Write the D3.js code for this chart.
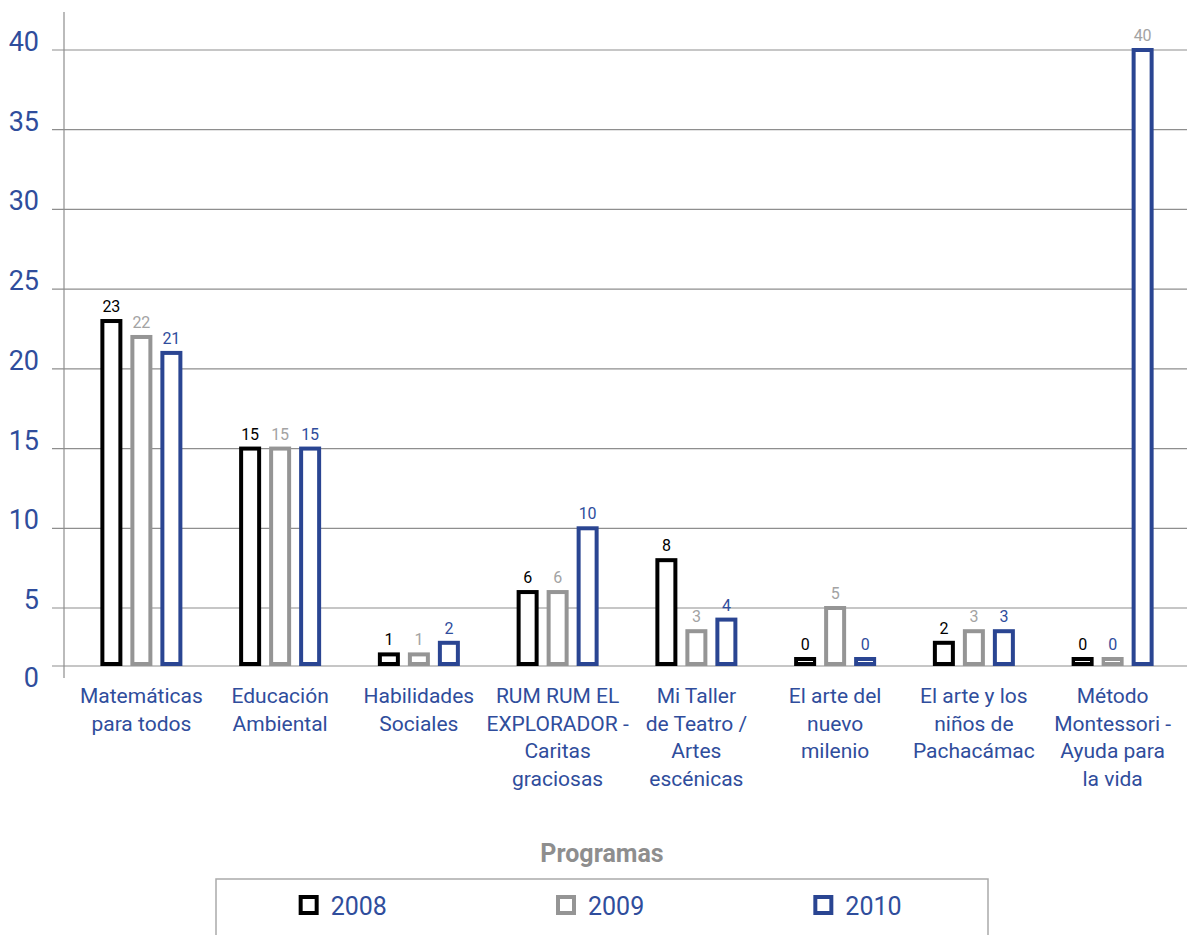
<!DOCTYPE html>
<html>
<head>
<meta charset="utf-8">
<script src="https://cdn.jsdelivr.net/npm/d3@7"></script>
<style>
  body { margin: 0; background: #fff; }
  svg { display: block; font-family: Roboto, "Noto Sans", sans-serif; }
</style>
</head>
<body>
<svg id="chart" width="1187" height="935"></svg>
<script>
const categories = [
  "Matemáticas\npara todos",
  "Educación\nAmbiental",
  "Habilidades\nSociales",
  "RUM RUM EL\nEXPLORADOR -\nCaritas\ngraciosas",
  "Mi Taller\nde Teatro /\nArtes\nescénicas",
  "El arte del\nnuevo\nmilenio",
  "El arte y los\nniños de\nPachacámac",
  "Método\nMontessori -\nAyuda para\nla vida"
];
const years = ["2008", "2009", "2010"];
const values2008 = [23, 15, 1, 6, 8, 0, 2, 0];
const values2009 = [22, 15, 1, 6, 3, 5, 3, 0];
const values2010 = [21, 15, 2, 10, 4, 0, 3, 40];
const yTicks = [0, 5, 10, 15, 20, 25, 30, 35, 40];
const axisTitle = "Programas";

const seriesValues = { "2008": values2008, "2009": values2009, "2010": values2010 };
const strokeColor = { "2008": "#000000", "2009": "#959595", "2010": "#2a4592" };
const labelColor = { "2008": "#000000", "2009": "#a3a3a3", "2010": "#2f4d9c" };
const blue = "#2f4d9c";
const gridColor = "#8e8e8e";

// in the source the last group's 2009 / 2010 value labels swap colours
const swappedLabelGroup = categories[7];

const svg = d3.select("#chart");

const x = d3.scaleBand()
  .domain(categories)
  .range([72, 1182]);

const xInner = d3.scaleBand()
  .domain(years)
  .range([-45, 45])
  .paddingInner(0.4)
  .paddingOuter(0.2);

// the original axis is not evenly spaced between 0 and 5
const y = d3.scaleLinear()
  .domain([0, 5, 40])
  .range([666, 608, 50]);

// gridlines
svg.append("g")
  .selectAll("line")
  .data(yTicks)
  .join("line")
  .attr("x1", 52)
  .attr("x2", 1187)
  .attr("y1", d => y(d))
  .attr("y2", d => y(d))
  .attr("stroke", gridColor)
  .attr("stroke-width", 1.2);

// vertical axis line
svg.append("line")
  .attr("x1", 64).attr("x2", 64)
  .attr("y1", 12).attr("y2", y(0) + 12)
  .attr("stroke", gridColor)
  .attr("stroke-width", 1.2);

// y tick labels
svg.append("g")
  .selectAll("text")
  .data(yTicks)
  .join("text")
  .attr("x", 39)
  .attr("y", d => d === 0 ? y(0) + 21 : y(d) + 1)
  .attr("text-anchor", "end")
  .attr("fill", blue)
  .attr("font-size", 27)
  .text(d => d);

// bars
const rows = [];
categories.forEach((c, i) => {
  years.forEach(yr => rows.push({ cat: c, year: yr, value: seriesValues[yr][i] }));
});

const barW = xInner.bandwidth();
const minH = 5;
const barTop = d => Math.min(y(d.value), y(0) - 2 - minH);

const bars = svg.append("g")
  .selectAll("g")
  .data(rows)
  .join("g")
  .attr("transform", d => `translate(${x(d.cat) + x.bandwidth() / 2 + xInner(d.year)},0)`);

bars.append("rect")
  .attr("x", 0)
  .attr("width", barW)
  .attr("y", barTop)
  .attr("height", d => (y(0) - 2) - barTop(d))
  .attr("fill", "#fff")
  .attr("stroke", d => strokeColor[d.year])
  .attr("stroke-width", 4);

bars.append("text")
  .attr("x", barW / 2)
  .attr("y", d => barTop(d) - 9)
  .attr("text-anchor", "middle")
  .attr("font-size", 16)
  .attr("fill", d => {
    if (d.cat === swappedLabelGroup && d.year === "2009") return labelColor["2010"];
    if (d.cat === swappedLabelGroup && d.year === "2010") return labelColor["2009"];
    return labelColor[d.year];
  })
  .text(d => d.value);

// category labels
const catLabels = svg.append("g")
  .selectAll("text")
  .data(categories)
  .join("text")
  .attr("x", d => x(d) + x.bandwidth() / 2)
  .attr("y", 703)
  .attr("text-anchor", "middle")
  .attr("fill", blue)
  .attr("font-size", 21);

catLabels.selectAll("tspan")
  .data(d => d.split("\n").map(t => ({ t, x: x(d) + x.bandwidth() / 2 })))
  .join("tspan")
  .attr("x", d => d.x)
  .attr("dy", (d, i) => i === 0 ? 0 : 27.5)
  .text(d => d.t);

// axis title
svg.append("text")
  .attr("x", 602)
  .attr("y", 862)
  .attr("text-anchor", "middle")
  .attr("font-size", 25)
  .attr("font-weight", "bold")
  .attr("fill", "#8e8e8e")
  .text(axisTitle);

// legend box (open at the bottom, clipped by the page edge)
svg.append("path")
  .attr("d", "M216,940 V879 H988 V940")
  .attr("fill", "none")
  .attr("stroke", "#aaaaaa")
  .attr("stroke-width", 1.5);

const legendX = d3.scaleBand()
  .domain(years)
  .range([216, 988]);

const legendItems = svg.append("g")
  .selectAll("g")
  .data(years)
  .join("g")
  .attr("transform", d => `translate(${legendX(d) + legendX.bandwidth() / 2 - 44},905)`);

legendItems.append("rect")
  .attr("x", 0)
  .attr("y", -8)
  .attr("width", 16)
  .attr("height", 16)
  .attr("fill", "#fff")
  .attr("stroke", d => strokeColor[d])
  .attr("stroke-width", 4);

legendItems.append("text")
  .attr("x", 30)
  .attr("y", 10)
  .attr("font-size", 25)
  .attr("fill", blue)
  .text(d => d);
</script>
</body>
</html>
